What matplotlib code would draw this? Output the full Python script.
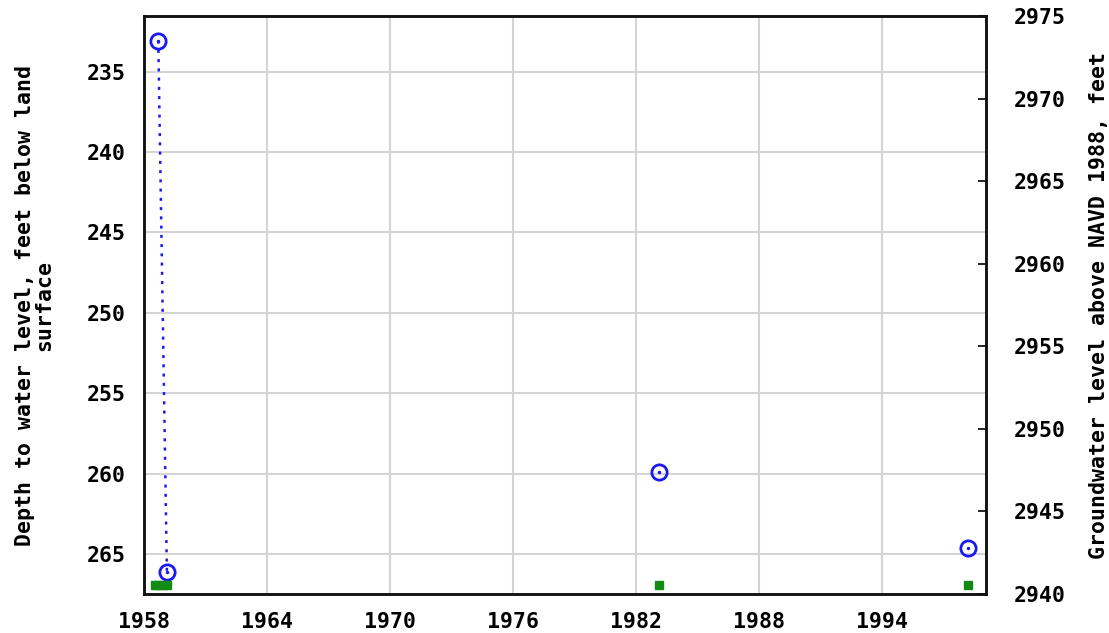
import matplotlib
matplotlib.use("Agg")
import matplotlib.pyplot as plt
import numpy as np

# ── Data ─────────────────────────────────────────────────────────
obs_years = [1958.72, 1959.14, 1983.13, 1998.19]
obs_depth = [233.07, 266.1, 259.88, 264.65]

approved_years = [1958.55, 1958.72, 1958.95, 1959.14, 1983.13, 1998.19]
approved_depth = [266.93] * len(approved_years)

x_ticks = [1958, 1964, 1970, 1976, 1982, 1988, 1994]
left_ticks = [235, 240, 245, 250, 255, 260, 265]
right_ticks = [2940, 2945, 2950, 2955, 2960, 2965, 2970, 2975]

# ── Styling ──────────────────────────────────────────────────────
FONT = "DejaVu Sans Mono"
FS = 15.5
BLUE = "#1a1aee"
GREEN = "#138a13"
GRID = "#d4d4d4"

plt.rcParams.update({
    "font.family": FONT,
    "font.weight": "bold",
    "font.size": FS,
})

fig = plt.figure(figsize=(11.09, 6.33), dpi=100)
ax = fig.add_axes([0.1294, 0.0616, 0.7594, 0.9131])

# dotted line only between points closer than a year apart
for i in range(len(obs_years) - 1):
    if obs_years[i + 1] - obs_years[i] < 1.0:
        ax.plot(obs_years[i:i + 2], obs_depth[i:i + 2], color=BLUE,
                linestyle=(0, (1.2, 2.5)), linewidth=1.8, zorder=3)

ax.plot(obs_years, obs_depth, linestyle="none", marker="o", markersize=11,
        markerfacecolor="none", markeredgecolor=BLUE, markeredgewidth=2, zorder=4)
ax.plot(obs_years, obs_depth, linestyle="none", marker=".", markersize=3,
        color=BLUE, zorder=5)

ax.plot(approved_years, approved_depth, linestyle="none", marker="s",
        markersize=6, color=GREEN, zorder=4)

ax.set_xlim(1958, 1999.03)
ax.set_ylim(267.48, 231.54)
ax.set_xticks(x_ticks)
ax.set_yticks(left_ticks)
ax.grid(True, color=GRID, linewidth=1.5)
ax.set_axisbelow(True)
ax.tick_params(axis="both", length=0)
ax.tick_params(axis="x", pad=13)
ax.tick_params(axis="y", pad=13)
for s in ax.spines.values():
    s.set_linewidth(1.8)
    s.set_color("#111111")

ax.set_ylabel("Depth to water level, feet below land\nsurface",
              fontsize=FS, fontweight="bold", labelpad=23, linespacing=0.95)

ax2 = ax.twinx()
ax2.set_ylim(2940, 2975)
ax2.set_yticks(right_ticks)
ax2.tick_params(axis="y", direction="in", length=6, width=1.2, pad=20)
ax2.set_ylabel("Groundwater level above NAVD 1988, feet",
               fontsize=FS, fontweight="bold", labelpad=17)
for s in ax2.spines.values():
    s.set_linewidth(1.8)
    s.set_color("#111111")

fig.savefig("out.png", dpi=100)
